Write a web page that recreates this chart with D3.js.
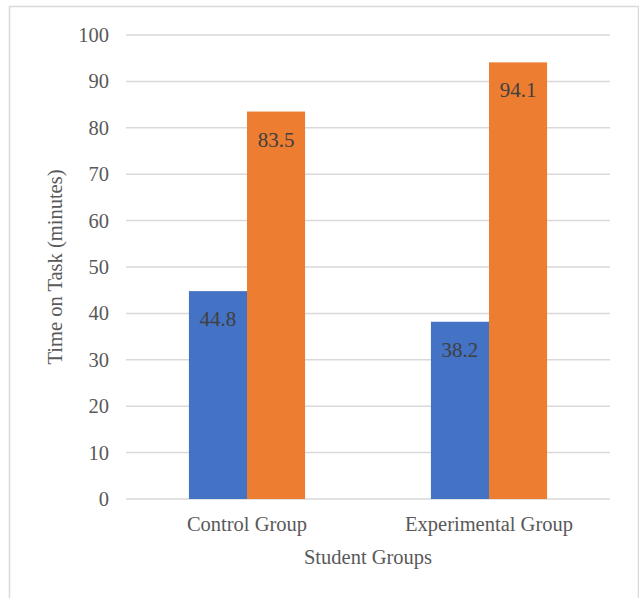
<!DOCTYPE html>
<html>
<head>
<meta charset="utf-8">
<script src="https://cdn.jsdelivr.net/npm/d3@7"></script>
<style>
  body { margin: 0; background: #fff; }
</style>
</head>
<body>
<div id="chart"></div>
<script>
var categories = ['Control Group', 'Experimental Group'];
var seriesNames = ['Series1', 'Series2'];
var series1 = [44.8, 38.2];
var series2 = [83.5, 94.1];
var yTicks = [0, 10, 20, 30, 40, 50, 60, 70, 80, 90, 100];

var width = 639, height = 598;
var plot = {left: 126, right: 610, top: 35, bottom: 499};
var colors = ['#4472C4', '#ED7D31'];

var svg = d3.select('#chart')
    .append('svg')
    .attr('width', width)
    .attr('height', height)
    .attr('font-family', '"Liberation Serif", "Times New Roman", "DejaVu Serif", serif');

// chart border
svg.append('rect')
    .attr('x', 9.5).attr('y', 6.5)
    .attr('width', 629).attr('height', 600)
    .attr('fill', 'none')
    .attr('stroke', '#d9d9d9')
    .attr('stroke-width', 1.5);

var x = d3.scaleBand().domain(categories).range([plot.left, plot.right])
    .paddingInner(0.52).paddingOuter(0.26);
var xs = d3.scaleBand().domain(seriesNames).range([0, x.bandwidth()]);
var y = d3.scaleLinear().domain([0, 100]).range([plot.bottom, plot.top]);

// gridlines
svg.append('g')
    .selectAll('line')
    .data(yTicks)
    .enter().append('line')
    .attr('x1', plot.left).attr('x2', plot.right)
    .attr('y1', function(d) { return y(d); })
    .attr('y2', function(d) { return y(d); })
    .attr('stroke', '#d9d9d9')
    .attr('stroke-width', 1.5);

// y tick labels
svg.append('g')
    .selectAll('text')
    .data(yTicks)
    .enter().append('text')
    .attr('x', 109)
    .attr('y', function(d) { return y(d) + 7; })
    .attr('text-anchor', 'end')
    .attr('font-size', 20.5)
    .attr('fill', '#595959')
    .text(function(d) { return d; });

var data = categories.map(function(c, i) {
    return {cat: c, values: [
        {name: seriesNames[0], value: series1[i], color: colors[0]},
        {name: seriesNames[1], value: series2[i], color: colors[1]}
    ]};
});

var groups = svg.append('g')
    .selectAll('g')
    .data(data)
    .enter().append('g')
    .attr('transform', function(d) { return 'translate(' + x(d.cat) + ',0)'; });

groups.selectAll('rect')
    .data(function(d) { return d.values; })
    .enter().append('rect')
    .attr('x', function(d) { return xs(d.name); })
    .attr('y', function(d) { return y(d.value); })
    .attr('width', xs.bandwidth())
    .attr('height', function(d) { return y(0) - y(d.value); })
    .attr('fill', function(d) { return d.color; });

groups.selectAll('text')
    .data(function(d) { return d.values; })
    .enter().append('text')
    .attr('x', function(d) { return xs(d.name) + xs.bandwidth() / 2; })
    .attr('y', function(d) { return y(d.value) + 35; })
    .attr('text-anchor', 'middle')
    .attr('font-size', 21)
    .attr('fill', '#404040')
    .text(function(d) { return d.value.toFixed(1); });

// category labels
svg.append('g')
    .selectAll('text')
    .data(categories)
    .enter().append('text')
    .attr('x', function(d) { return x(d) + x.bandwidth() / 2; })
    .attr('y', 531)
    .attr('text-anchor', 'middle')
    .attr('font-size', 20.5)
    .attr('fill', '#595959')
    .text(function(d) { return d; });

// axis titles
svg.append('text')
    .attr('x', (plot.left + plot.right) / 2)
    .attr('y', 564)
    .attr('text-anchor', 'middle')
    .attr('font-size', 20.5)
    .attr('fill', '#595959')
    .text('Student Groups');

svg.append('text')
    .attr('transform', 'translate(62,' + (plot.top + plot.bottom) / 2 + ') rotate(-90)')
    .attr('text-anchor', 'middle')
    .attr('font-size', 20.5)
    .attr('fill', '#595959')
    .text('Time on Task (minutes)');
</script>
</body>
</html>
